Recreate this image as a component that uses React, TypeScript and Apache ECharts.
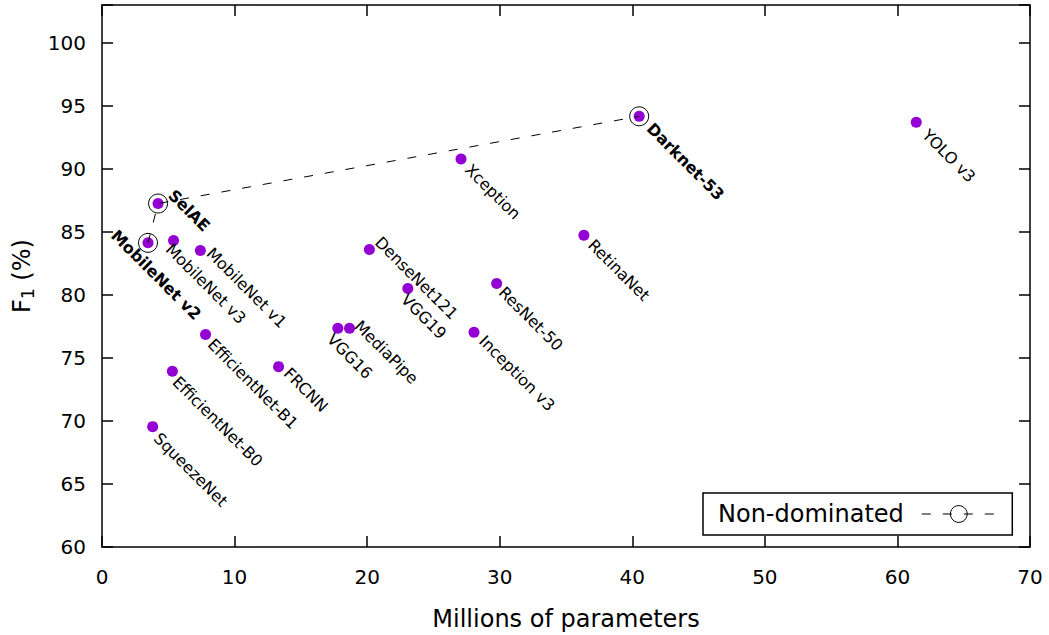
import React, { useEffect, useRef } from "react";
import * as echarts from "echarts";

// ---- data ----
const modelNames: string[] = [
  "SelAE", "MobileNet v2", "MobileNet v3", "MobileNet v1", "EfficientNet-B1",
  "EfficientNet-B0", "SqueezeNet", "FRCNN", "VGG16", "MediaPipe",
  "DenseNet121", "VGG19", "Xception", "Inception v3", "ResNet-50",
  "RetinaNet", "Darknet-53", "YOLO v3",
];
const paramsMillions: number[] = [
  4.23, 3.47, 5.4, 7.42, 7.81,
  5.31, 3.82, 13.32, 17.79, 18.67,
  20.17, 23.07, 27.08, 28.06, 29.77,
  36.35, 40.52, 61.42,
];
const f1Scores: number[] = [
  87.25, 84.13, 84.31, 83.52, 76.85,
  73.94, 69.55, 74.31, 77.35, 77.35,
  83.6, 80.5, 90.79, 77.03, 80.9,
  84.73, 94.17, 93.7,
];
const nonDominated: string[] = ["MobileNet v2", "SelAE", "Darknet-53"];
const legendLabel = "Non-dominated";
const xAxisTitle = "Millions of parameters";

// axis ranges
const X_MIN = 0, X_MAX = 70, X_STEP = 10;
const Y_MIN = 60, Y_MAX = 103, Y_STEP = 5, Y_LABEL_MAX = 100;

// ---- layout: label anchor offsets (screen px) from each point ----
const labelOffsets: Record<string, [number, number]> = {
  "SelAE": [13, -11],
  "MobileNet v2": [-34, -10],
  "MobileNet v3": [-5, 6],
  "MobileNet v1": [9, 0],
  "EfficientNet-B1": [5, 7],
  "EfficientNet-B0": [3, 8],
  "SqueezeNet": [4, 9],
  "FRCNN": [8, 4],
  "VGG16": [-8, 8],
  "MediaPipe": [8, -5],
  "DenseNet121": [8.5, -10],
  "VGG19": [-4, 8],
  "Xception": [7, 8],
  "Inception v3": [8, 6],
  "ResNet-50": [5, 6],
  "RetinaNet": [7, 7],
  "Darknet-53": [10.5, 9.5],
  "YOLO v3": [9, 10],
};

const FONT = "DejaVu Sans";
const PURPLE = "#9400D3";
const DOT = 11;
const DASH = [9, 12];
const C45 = Math.SQRT1_2;

export default function App() {
  const ref = useRef<HTMLDivElement>(null);

  useEffect(() => {
    if (!ref.current) return;
    const chart = echarts.init(ref.current, undefined, { renderer: "svg" });

    const scatterData = modelNames.map((name, i) => {
      const off = labelOffsets[name] || [7, 8];
      // screen displacement from the 'right' anchor, converted into the rotated label frame
      const dx = off[0] - DOT / 2;
      const dy = off[1];
      return {
        name,
        value: [paramsMillions[i], f1Scores[i]],
        label: {
          offset: [C45 * (dx + dy), C45 * (dy - dx)],
          fontWeight: nonDominated.includes(name) ? "bold" : "normal",
        },
      };
    });

    const frontData = nonDominated.map((n) => {
      const i = modelNames.indexOf(n);
      return [paramsMillions[i], f1Scores[i]];
    });

    const axisCommon = {
      type: "value" as const,
      splitLine: { show: false },
      axisLine: { show: true, onZero: false, lineStyle: { color: "#000", width: 1.5 } },
      axisTick: { show: true, inside: true, length: 11, lineStyle: { color: "#000", width: 1.5 } },
    };

    chart.setOption({
      animation: false,
      backgroundColor: "#fff",
      textStyle: { fontFamily: FONT },
      grid: { left: 102, right: 19, top: 5, bottom: 88, containLabel: false, outerBoundsMode: "none" },
      legend: {
        show: true,
        data: [legendLabel],
        left: 703,
        top: 493,
        align: "right",
        orient: "horizontal",
        selectedMode: false,
        borderColor: "#000",
        borderWidth: 1.5,
        borderRadius: 0,
        padding: [9, 16, 9, 15],
        itemWidth: 74,
        itemHeight: 21,
        textStyle: { fontFamily: FONT, fontSize: 24, color: "#000", padding: [0, 13, 0, 0] },
        lineStyle: { color: "#000", width: 1, type: DASH },
        itemStyle: { color: "rgba(0,0,0,0)", borderColor: "#000", borderWidth: 1 },
      },
      xAxis: [
        {
          ...axisCommon,
          position: "bottom",
          min: X_MIN,
          max: X_MAX,
          interval: X_STEP,
          axisLabel: { fontFamily: FONT, fontSize: 20, color: "#000", margin: 20 },
          name: xAxisTitle,
          nameLocation: "middle",
          nameGap: 60,
          nameTextStyle: { fontFamily: FONT, fontSize: 24, color: "#000" },
        },
        {
          ...axisCommon,
          position: "top",
          min: X_MIN,
          max: X_MAX,
          interval: X_STEP,
          axisLabel: { show: false },
        },
      ],
      yAxis: [
        {
          ...axisCommon,
          position: "left",
          min: Y_MIN,
          max: Y_MAX,
          interval: Y_STEP,
          axisLabel: {
            fontFamily: FONT,
            fontSize: 20,
            color: "#000",
            margin: 16,
            formatter: (v: number) => (v > Y_LABEL_MAX ? "" : String(v)),
          },
          name: "{f|F}{s|1}{f| (%)}",
          nameLocation: "middle",
          nameGap: 62,
          nameRotate: 90,
          nameTextStyle: {
            fontFamily: FONT,
            fontSize: 24,
            color: "#000",
            rich: {
              f: { fontFamily: FONT, fontSize: 24, color: "#000", lineHeight: 30 },
              s: { fontFamily: FONT, fontSize: 17, color: "#000", lineHeight: 16, verticalAlign: "bottom" },
            },
          },
        },
        {
          ...axisCommon,
          position: "right",
          min: Y_MIN,
          max: Y_MAX,
          interval: Y_STEP,
          axisLabel: { show: false },
        },
      ],
      series: [
        {
          type: "scatter",
          name: "models",
          xAxisIndex: 0,
          yAxisIndex: 0,
          symbol: "circle",
          symbolSize: DOT,
          itemStyle: { color: PURPLE, opacity: 1 },
          data: scatterData,
          label: {
            show: true,
            formatter: "{b}",
            position: "right",
            distance: 0,
            rotate: -45,
            align: "left",
            verticalAlign: "middle",
            fontFamily: FONT,
            fontSize: 16,
            color: "#000",
            opacity: 1,
          },
          emphasis: { disabled: true },
        },
        {
          type: "line",
          name: legendLabel,
          xAxisIndex: 0,
          yAxisIndex: 0,
          data: frontData,
          symbol: "circle",
          symbolSize: 19,
          showSymbol: true,
          itemStyle: { color: "rgba(0,0,0,0)", borderColor: "#000", borderWidth: 1 },
          lineStyle: { color: "#000", width: 1, type: DASH },
          label: { show: false },
          emphasis: { disabled: true },
          z: 3,
        },
      ],
    });

    return () => chart.dispose();
  }, []);

  return (
    <div
      ref={ref}
      style={{ position: "fixed", left: 0, top: 0, width: 1049, height: 635, background: "#fff" }}
    />
  );
}
